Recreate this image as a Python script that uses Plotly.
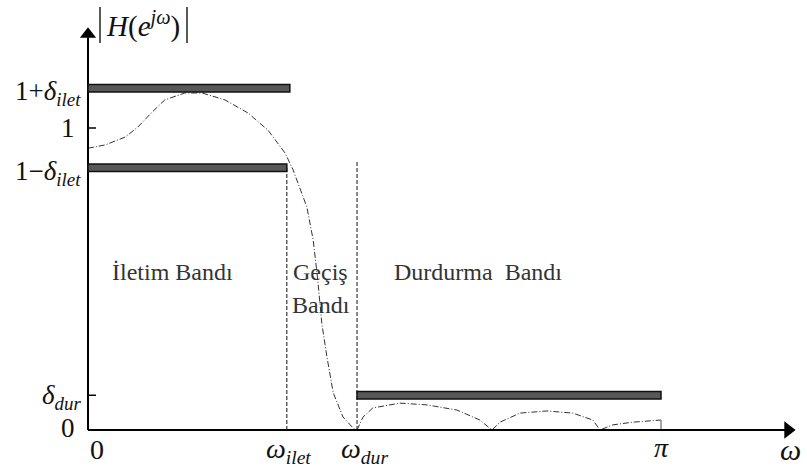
import plotly.graph_objects as go

# ---------------- data (x in units of pi, y in magnitude units) ----------------
omega_ilet = 0.347      # passband edge  (w_ilet / pi)
omega_dur = 0.4695      # stopband edge  (w_dur / pi)
omega_pi = 1.0          # pi
delta_ilet = 0.132      # passband ripple
delta_dur = 0.115       # stopband ripple
x_axis_end = 1.234      # tip of omega axis arrow
y_axis_end = 1.334      # tip of |H| axis arrow

# magnitude response, passband + transition
resp_x = [0.0, 0.030, 0.065, 0.087, 0.112, 0.134, 0.169, 0.199, 0.239, 0.279,
          0.314, 0.344, 0.358, 0.382, 0.393, 0.401, 0.408, 0.417, 0.428, 0.445,
          0.4625, 0.4677]
resp_y = [0.933, 0.944, 0.970, 1.003, 1.053, 1.093, 1.116, 1.116, 1.093, 1.050,
          0.993, 0.917, 0.861, 0.738, 0.629, 0.497, 0.354, 0.242, 0.123, 0.043,
          0.007, 0.0]

# magnitude response, stopband lobes
stop_x = [0.4695, 0.480, 0.497, 0.5445, 0.592, 0.644, 0.684, 0.705, 0.719, 0.754,
          0.801, 0.846, 0.881, 0.8935, 0.916, 0.951, 1.0]
stop_y = [0.0, 0.043, 0.073, 0.089, 0.083, 0.066, 0.033, 0.0, 0.026, 0.056,
          0.063, 0.056, 0.033, 0.0, 0.017, 0.026, 0.033]

y_tick_vals = [1 + delta_ilet, 1.0, 1 - delta_ilet, delta_dur, 0.0]
y_tick_text = ["1+<i>δ</i><sub><i>ilet</i></sub>", "1",
               "1−<i>δ</i><sub><i>ilet</i></sub>", "<i>δ</i><sub><i>dur</i></sub>", "0"]
x_tick_vals = [0.0, omega_ilet, omega_dur, omega_pi]
x_tick_text = ["0", "<i>ω</i><sub><i>ilet</i></sub>", "<i>ω</i><sub><i>dur</i></sub>", "<i>π</i>"]
band_labels = ["İletim Bandı", "Geçiş", "Bandı", "Durdurma\u00a0 Bandı"]

# ---------------- figure ----------------
W, H = 807, 468
px_per_x = 573.0
px_per_y = 302.0
x0_px, y0_px = 88.0, 430.0
xr = [-x0_px / px_per_x, (W - x0_px) / px_per_x]
yr = [(y0_px - H) / px_per_y, y0_px / px_per_y]

def dx(px):
    return px / px_per_x

def dy(px):
    return px / px_per_y

SERIF = "Liberation Serif, Times New Roman, serif"
fig = go.Figure()

curve_line = dict(color="#333333", width=1, dash="6px,2px,1px,2px")
fig.add_trace(go.Scatter(x=resp_x, y=resp_y, mode="lines", line=curve_line,
                         hoverinfo="skip", showlegend=False))
fig.add_trace(go.Scatter(x=stop_x, y=stop_y, mode="lines", line=curve_line,
                         hoverinfo="skip", showlegend=False))
# small gray drop at pi
fig.add_trace(go.Scatter(x=[omega_pi, omega_pi], y=[stop_y[-1], 0], mode="lines",
                         line=dict(color="#888888", width=1.5),
                         hoverinfo="skip", showlegend=False))
# axis arrow heads (marker centre placed just behind the tip)
fig.add_trace(go.Scatter(x=[0], y=[y_axis_end - dy(7)], mode="markers",
                         marker=dict(symbol="triangle-up", size=14, color="black"),
                         hoverinfo="skip", showlegend=False))
fig.add_trace(go.Scatter(x=[x_axis_end - dx(7)], y=[0], mode="markers",
                         marker=dict(symbol="triangle-right", size=15, color="black"),
                         hoverinfo="skip", showlegend=False))

shapes = []
# axes
shapes.append(dict(type="line", xref="x", yref="y", x0=0, x1=0, y0=0, y1=y_axis_end - dy(10),
                   line=dict(color="black", width=2)))
shapes.append(dict(type="line", xref="x", yref="y", x0=0, x1=x_axis_end - dx(10), y0=0, y1=0,
                   line=dict(color="black", width=2)))
bar_h = dy(7.5)
bar_style = dict(fillcolor="#585858", line=dict(color="#111111", width=1.5), layer="above")
# tolerance bars
shapes.append(dict(type="rect", xref="x", yref="y", x0=0, x1=omega_ilet + dx(3),
                   y0=1 + delta_ilet - bar_h / 2, y1=1 + delta_ilet + bar_h / 2, **bar_style))
shapes.append(dict(type="rect", xref="x", yref="y", x0=0, x1=omega_ilet,
                   y0=1 - delta_ilet - bar_h / 2, y1=1 - delta_ilet + bar_h / 2, **bar_style))
shapes.append(dict(type="rect", xref="x", yref="y", x0=omega_dur, x1=omega_pi,
                   y0=delta_dur - bar_h / 2, y1=delta_dur + bar_h / 2, **bar_style))
# dashed band edges
dash_line = dict(color="#111111", width=1, dash="4px,2px")
shapes.append(dict(type="line", xref="x", yref="y", x0=omega_ilet, x1=omega_ilet,
                   y0=0, y1=1 - delta_ilet, line=dash_line, layer="below"))
shapes.append(dict(type="line", xref="x", yref="y", x0=omega_dur, x1=omega_dur,
                   y0=0, y1=1 - delta_ilet + dy(6), line=dash_line, layer="below"))
# ticks on y axis
for v in [1.0, delta_dur]:
    shapes.append(dict(type="line", xref="x", yref="y", x0=0, x1=dx(8), y0=v, y1=v,
                       line=dict(color="black", width=1.5)))
# |  | around H(e^jw)
for xp in [100, 187]:
    shapes.append(dict(type="line", xref="x", yref="y", x0=dx(xp - x0_px), x1=dx(xp - x0_px),
                       y0=dy(y0_px - 43), y1=dy(y0_px - 7),
                       line=dict(color="black", width=1.3)))

annotations = []
# y tick labels
ylab_shift = [-5, 0, -5, -2, 2]
for v, t, s in zip(y_tick_vals, y_tick_text, ylab_shift):
    xa = dx(-5) if t not in ("1", "0") else dx(-11)
    annotations.append(dict(x=xa, y=v, xref="x", yref="y", text=t, showarrow=False,
                            xanchor="right", yanchor="middle", yshift=s,
                            font=dict(family=SERIF, size=27, color="#111111")))
# x tick labels
xlab_x = [dx(97 - x0_px), dx(288 - x0_px), dx(364 - x0_px), omega_pi]
xlab_shift = [1, 0, 0, 3]
for xv, t, s in zip(xlab_x, x_tick_text, xlab_shift):
    annotations.append(dict(x=xv, y=dy(-20), xref="x", yref="y", text=t, showarrow=False,
                            xanchor="center", yanchor="middle", yshift=s,
                            font=dict(family=SERIF, size=28, color="#111111")))
# omega axis name
annotations.append(dict(x=dx(790 - x0_px), y=dy(-19), xref="x", yref="y", text="<i>ω</i>",
                        showarrow=False, xanchor="center", yanchor="middle",
                        font=dict(family=SERIF, size=30, color="#111111")))
# |H(e^jw)| title
annotations.append(dict(x=dx(143 - x0_px), y=dy(y0_px - 24), xref="x", yref="y",
                        text="<i>H</i>(<i>e</i><sup><i>jω</i></sup>)", showarrow=False,
                        xanchor="center", yanchor="middle",
                        font=dict(family=SERIF, size=29, color="#111111")))
# band labels
band_pos = [(172, 272), (320, 272), (321, 305), (478, 272)]
for (bx, by), t in zip(band_pos, band_labels):
    annotations.append(dict(x=dx(bx - x0_px), y=dy(y0_px - by), xref="x", yref="y", text=t,
                            showarrow=False, xanchor="center", yanchor="middle",
                            font=dict(family=SERIF, size=24, color="#333333")))

fig.update_layout(
    width=W, height=H, autosize=False,
    margin=dict(l=0, r=0, t=0, b=0),
    paper_bgcolor="white", plot_bgcolor="white",
    xaxis=dict(range=xr, visible=False, fixedrange=True),
    yaxis=dict(range=yr, visible=False, fixedrange=True),
    shapes=shapes, annotations=annotations, showlegend=False,
)

fig.write_html("out.html")
